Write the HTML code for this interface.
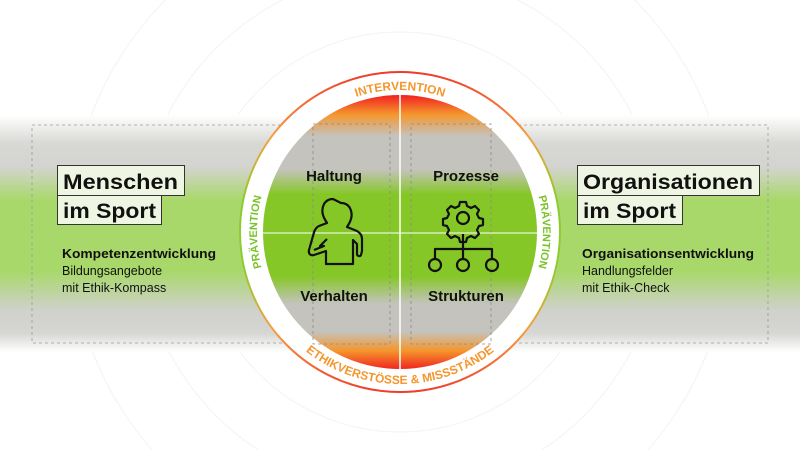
<!DOCTYPE html>
<html><head><meta charset="utf-8"><style>
html,body{margin:0;padding:0;background:#fff;width:800px;height:450px;overflow:hidden}
svg{display:block}
</style></head><body>
<svg width="800" height="450" viewBox="0 0 800 450" xmlns="http://www.w3.org/2000/svg" font-family="Liberation Sans, sans-serif">
<defs>
<linearGradient id="band" x1="0" y1="115" x2="0" y2="352" gradientUnits="userSpaceOnUse">
<stop offset="0" stop-color="#fff"/>
<stop offset="0.12" stop-color="#d8d8d5"/>
<stop offset="0.22" stop-color="#d3d4cf"/>
<stop offset="0.36" stop-color="#a9d86a"/>
<stop offset="0.66" stop-color="#a9d86a"/>
<stop offset="0.82" stop-color="#cfd1ca"/>
<stop offset="0.92" stop-color="#d6d6d3"/>
<stop offset="1" stop-color="#fff"/>
</linearGradient>
<linearGradient id="disc" x1="0" y1="95" x2="0" y2="370" gradientUnits="userSpaceOnUse">
<stop offset="0" stop-color="#f02020"/>
<stop offset="0.07" stop-color="#f5962c"/>
<stop offset="0.15" stop-color="#c4c3be"/>
<stop offset="0.27" stop-color="#c4c3be"/>
<stop offset="0.36" stop-color="#86c728"/>
<stop offset="0.66" stop-color="#86c728"/>
<stop offset="0.76" stop-color="#c4c3be"/>
<stop offset="0.86" stop-color="#c4c3be"/>
<stop offset="0.93" stop-color="#f5962c"/>
<stop offset="1" stop-color="#f02020"/>
</linearGradient>
<linearGradient id="ring" x1="0" y1="72" x2="0" y2="394" gradientUnits="userSpaceOnUse">
<stop offset="0" stop-color="#f03a2a"/>
<stop offset="0.2" stop-color="#f5a040"/>
<stop offset="0.4" stop-color="#8ccc30"/>
<stop offset="0.6" stop-color="#8ccc30"/>
<stop offset="0.8" stop-color="#f5a040"/>
<stop offset="1" stop-color="#f03a2a"/>
</linearGradient>
<path id="topArc" d="M 258 232 A 142 142 0 0 1 542 232"/>
<path id="botArc" d="M 248 232 A 152 152 0 0 0 552 232"/>
<path id="leftArc" d="M 400 375 A 143 143 0 0 1 400 89"/>
<path id="rightArc" d="M 400 89 A 143 143 0 0 1 400 375"/>
</defs>
<rect width="800" height="450" fill="#fff"/>
<g fill="none" stroke="#f3f3f3" stroke-width="1">
<circle cx="400" cy="232" r="200"/>
<circle cx="400" cy="232" r="260"/>
<circle cx="400" cy="232" r="330"/>
</g>
<rect x="0" y="115" width="800" height="237" fill="url(#band)"/>
<rect x="32" y="125" width="358" height="218" fill="none" stroke="#9a9a9a" stroke-dasharray="3,3" stroke-width="0.8"/>
<rect x="410" y="125" width="358" height="218" fill="none" stroke="#9a9a9a" stroke-dasharray="3,3" stroke-width="0.8"/>
<circle cx="400" cy="232" r="160" fill="#fff" stroke="url(#ring)" stroke-width="2"/>
<circle cx="400" cy="232" r="137" fill="url(#disc)"/>
<rect x="313" y="124" width="77" height="220" fill="none" stroke="#8a8a8a" stroke-dasharray="3,3" stroke-width="0.8"/>
<rect x="411" y="124" width="80" height="220" fill="none" stroke="#8a8a8a" stroke-dasharray="3,3" stroke-width="0.8"/>
<line x1="400" y1="95" x2="400" y2="369" stroke="#fff" stroke-width="1.5"/>
<line x1="263" y1="233" x2="537" y2="233" stroke="#fff" stroke-width="1"/>
<g font-weight="bold" font-size="12">
<text fill="#f5962c"><textPath href="#topArc" startOffset="50%" text-anchor="middle">INTERVENTION</textPath></text>
<text fill="#f5962c"><textPath href="#botArc" startOffset="50%" text-anchor="middle">ETHIKVERSTÖSSE &amp; MISSSTÄNDE</textPath></text>
<text fill="#7cc22a" font-size="11"><textPath href="#leftArc" startOffset="50%" text-anchor="middle">PRÄVENTION</textPath></text>
<text fill="#7cc22a" font-size="11"><textPath href="#rightArc" startOffset="50%" text-anchor="middle">PRÄVENTION</textPath></text>
</g>
<g font-weight="bold" font-size="15" fill="#111" text-anchor="middle">
<text x="334" y="181">Haltung</text>
<text x="466" y="181">Prozesse</text>
<text x="334" y="301">Verhalten</text>
<text x="466" y="301">Strukturen</text>
</g>
<g fill="none" stroke="#111" stroke-width="2.2" stroke-linejoin="round">
<path d="M333 199 c-9 0 -12 9 -10 16 c1 4 3 6 4 8 l-8 3 c-4 2 -5 6 -6 10 l-4 14 c-1 4 2 6 5 5 l12 -4 l0 13 l27 0 l0 -24 l4 4 l0 10 c0 2 3 3 4 1 l1 -4 l0 -12 c0 -4 -2 -6 -5 -8 l-10 -4 c1 -2 3 -4 4 -8 c2 -7 -1 -16 -10 -16 z"/>
<path d="M314 250 l10 -4 l-4 0 l7 -7"/>
</g>
<g fill="none" stroke="#111" stroke-width="2.2" stroke-linejoin="round">
<circle cx="463" cy="218" r="6"/>
<path d="M460 202 h6 l1 4 l4 2 l4 -2 l4 4 l-2 4 l2 4 l4 1 v6 l-4 1 l-2 4 l2 4 l-4 4 l-4 -2 l-4 2 l-1 4 h-6 l-1 -4 l-4 -2 l-4 2 l-4 -4 l2 -4 l-2 -4 l-4 -1 v-6 l4 -1 l2 -4 l-2 -4 l4 -4 l4 2 l4 -2 z"/>
<path d="M463 234 v15 M435 258 v-9 h57 v9 M463 249 v9"/>
<circle cx="435" cy="265" r="6"/>
<circle cx="463" cy="265" r="6"/>
<circle cx="492" cy="265" r="6"/>
</g>
<g stroke="#333" stroke-width="1" fill="#eef6e3">
<rect x="57.5" y="165.5" width="127" height="30"/>
<rect x="57.5" y="195.5" width="104" height="29"/>
<rect x="577.5" y="165.5" width="182" height="30"/>
<rect x="577.5" y="195.5" width="105" height="29"/>
</g>
<g font-weight="bold" font-size="21" fill="#111">
<text x="63" y="189" textLength="115" lengthAdjust="spacingAndGlyphs">Menschen</text>
<text x="63" y="218" textLength="93" lengthAdjust="spacingAndGlyphs">im Sport</text>
<text x="583" y="189" textLength="170" lengthAdjust="spacingAndGlyphs">Organisationen</text>
<text x="583" y="218" textLength="93" lengthAdjust="spacingAndGlyphs">im Sport</text>
</g>
<g font-size="12.5" fill="#111">
<text x="62" y="258" font-weight="bold" textLength="154" lengthAdjust="spacingAndGlyphs">Kompetenzentwicklung</text>
<text x="62" y="275">Bildungsangebote</text>
<text x="62" y="292">mit Ethik-Kompass</text>
<text x="582" y="258" font-weight="bold" textLength="172" lengthAdjust="spacingAndGlyphs">Organisationsentwicklung</text>
<text x="582" y="275">Handlungsfelder</text>
<text x="582" y="292">mit Ethik-Check</text>
</g>
</svg>
</body></html>
